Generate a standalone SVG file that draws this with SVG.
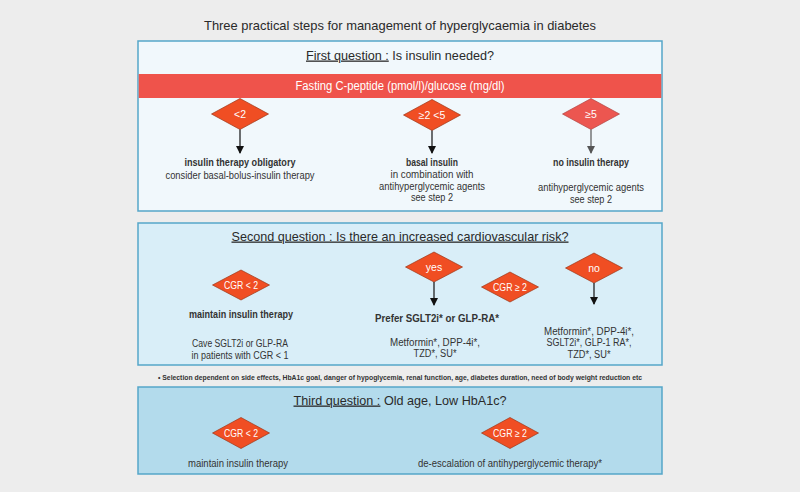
<svg xmlns="http://www.w3.org/2000/svg" width="800" height="492" viewBox="0 0 800 492">
<style>
text{font-family:"Liberation Sans",Arial,sans-serif;fill:#333;text-anchor:middle}
.title{font-size:13px;fill:#2a2a2a}
.q{font-size:13px;fill:#2a2a2a}
.u{text-decoration:underline}
.b{font-size:10px;font-weight:bold}
.t{font-size:10px}
.dt{font-size:10.5px;fill:#fff}
.box{stroke:#55a6c9;stroke-width:1.5}
.dia{fill:#f04e23;stroke:#9c3516;stroke-width:0.7}
.dia2{fill:#ec5650;stroke:#b04440;stroke-width:0.7}
.arr{stroke:#111;stroke-width:1.2;fill:none}
.arrg{stroke:#555;stroke-width:1.2;fill:none}
</style>
<defs>
<marker id="ah" markerWidth="8" markerHeight="8" refX="7" refY="4" orient="auto" markerUnits="userSpaceOnUse"><path d="M0,0 L8,4 L0,8 Z" fill="#111"/></marker>
<marker id="ahg" markerWidth="8" markerHeight="8" refX="7" refY="4" orient="auto" markerUnits="userSpaceOnUse"><path d="M0,0 L8,4 L0,8 Z" fill="#555"/></marker>
</defs>
<rect x="0" y="0" width="800" height="492" fill="#ededed"/>
<text class="title" x="400" y="29.5" textLength="392" lengthAdjust="spacingAndGlyphs">Three practical steps for management of hyperglycaemia in diabetes</text>

<g id="box1">
<rect class="box" x="138" y="41" width="524" height="170" fill="#f1f8fc"/>
<text class="q" x="400" y="59.5" textLength="188" lengthAdjust="spacingAndGlyphs"><tspan class="u">First question :</tspan> Is insulin needed?</text>
<rect x="138.75" y="74" width="522.5" height="24" fill="#ef534b"/>
<text x="400" y="90" style="font-size:12px;fill:#fff" textLength="209" lengthAdjust="spacingAndGlyphs">Fasting C-peptide (pmol/l)/glucose (mg/dl)</text>
</g>
<g id="d1">
<polygon class="dia" points="211.5,114 240,98.5 268.5,114 240,129.5"/>
<text class="dt" x="240" y="117.8">&lt;2</text>
</g>
<g id="d2">
<polygon class="dia" points="403.5,115 432,99.5 460.5,115 432,130.5"/>
<text class="dt" x="432" y="118.8">≥2 &lt;5</text>
</g>
<g id="d3">
<polygon class="dia2" points="562.5,114 591,98.5 619.5,114 591,129.5"/>
<text class="dt" x="591" y="117.8">≥5</text>
</g>
<g id="r1">
<text class="b" x="240" y="166" textLength="111" lengthAdjust="spacingAndGlyphs">insulin therapy obligatory</text>
<text class="t" x="240" y="178.5" textLength="149" lengthAdjust="spacingAndGlyphs">consider basal-bolus-insulin therapy</text>
</g>
<g id="r2">
<text class="b" x="432" y="166" textLength="52" lengthAdjust="spacingAndGlyphs">basal insulin</text>
<text class="t" x="432" y="177.5" textLength="83" lengthAdjust="spacingAndGlyphs">in combination with</text>
<text class="t" x="432" y="189.5" textLength="106" lengthAdjust="spacingAndGlyphs">antihyperglycemic agents</text>
<text class="t" x="432" y="201" textLength="42" lengthAdjust="spacingAndGlyphs">see step 2</text>
</g>
<g id="r3">
<text class="b" x="591" y="166" textLength="76" lengthAdjust="spacingAndGlyphs">no insulin therapy</text>
<text class="t" x="591" y="191" textLength="106" lengthAdjust="spacingAndGlyphs">antihyperglycemic agents</text>
<text class="t" x="591" y="202.5" textLength="42" lengthAdjust="spacingAndGlyphs">see step 2</text>
</g>

<g id="box2">
<rect class="box" x="138" y="223" width="524" height="142" fill="#d9eef8"/>
<text class="q u" x="400" y="240.5" textLength="337" lengthAdjust="spacingAndGlyphs">Second question : Is there an increased cardiovascular risk?</text>
</g>
<g id="d4">
<polygon class="dia" points="212.5,285 241,270 269.5,285 241,300"/>
<text class="dt" x="241" y="288.8" textLength="34" lengthAdjust="spacingAndGlyphs">CGR &lt; 2</text>
</g>
<g id="d5">
<polygon class="dia" points="405.5,267 434,252 462.5,267 434,282"/>
<text class="dt" x="434" y="270.8">yes</text>
</g>
<g id="d6">
<polygon class="dia" points="481.5,287 510,272 538.5,287 510,302"/>
<text class="dt" x="510" y="290.8" textLength="34" lengthAdjust="spacingAndGlyphs">CGR ≥ 2</text>
</g>
<g id="d7">
<polygon class="dia" points="565.5,268 594,253 622.5,268 594,283"/>
<text class="dt" x="594" y="271.8">no</text>
</g>
<g id="r4">
<text class="b" x="241" y="318" textLength="104" lengthAdjust="spacingAndGlyphs">maintain insulin therapy</text>
<text class="t" x="240" y="347" textLength="96" lengthAdjust="spacingAndGlyphs">Cave SGLT2i or GLP-RA</text>
<text class="t" x="240" y="358.5" textLength="97" lengthAdjust="spacingAndGlyphs">in patients with CGR &lt; 1</text>
</g>
<g id="r5">
<text class="b" x="437" y="321.5" textLength="124" lengthAdjust="spacingAndGlyphs">Prefer SGLT2i* or GLP-RA*</text>
<text class="t" x="435" y="345.5" textLength="90" lengthAdjust="spacingAndGlyphs">Metformin*, DPP-4i*,</text>
<text class="t" x="435" y="357" textLength="43" lengthAdjust="spacingAndGlyphs">TZD*, SU*</text>
</g>
<g id="r6">
<text class="t" x="589" y="334.5" textLength="90" lengthAdjust="spacingAndGlyphs">Metformin*, DPP-4i*,</text>
<text class="t" x="589" y="346" textLength="85" lengthAdjust="spacingAndGlyphs">SGLT2i*, GLP-1 RA*,</text>
<text class="t" x="589" y="357.5" textLength="43" lengthAdjust="spacingAndGlyphs">TZD*, SU*</text>
</g>

<text x="400" y="380" style="font-size:7.4px;font-weight:bold" textLength="484" lengthAdjust="spacingAndGlyphs">• Selection dependent on side effects, HbA1c goal, danger of hypoglycemia, renal function, age, diabetes duration, need of body weight reduction etc</text>

<g id="box3">
<rect class="box" x="138" y="387" width="524" height="87" fill="#b3dbec"/>
<text class="q" x="400" y="404.5" textLength="213" lengthAdjust="spacingAndGlyphs"><tspan class="u">Third question :</tspan> Old age, Low HbA1c?</text>
</g>
<g id="d8">
<polygon class="dia" points="212.5,433 241,417.5 269.5,433 241,448.5"/>
<text class="dt" x="241" y="436.8" textLength="34" lengthAdjust="spacingAndGlyphs">CGR &lt; 2</text>
</g>
<g id="d9">
<polygon class="dia" points="481.5,433 510,417.5 538.5,433 510,448.5"/>
<text class="dt" x="510" y="436.8" textLength="34" lengthAdjust="spacingAndGlyphs">CGR ≥ 2</text>
</g>
<g id="r7">
<text class="t" x="238" y="466.5" textLength="100" lengthAdjust="spacingAndGlyphs">maintain insulin therapy</text>
</g>
<g id="r8">
<text class="t" x="510" y="466.5" textLength="184" lengthAdjust="spacingAndGlyphs">de-escalation of antihyperglycemic therapy*</text>
</g>

<g id="connectors">
<line class="arr" x1="240" y1="129.5" x2="240" y2="153" marker-end="url(#ah)"/>
<line class="arr" x1="432" y1="130.5" x2="432" y2="153" marker-end="url(#ah)"/>
<line class="arrg" x1="591" y1="129.5" x2="591" y2="153" marker-end="url(#ahg)"/>
<line class="arr" x1="434" y1="282" x2="434" y2="305" marker-end="url(#ah)"/>
<line class="arr" x1="594" y1="283" x2="594" y2="304" marker-end="url(#ah)"/>
</g>
</svg>
